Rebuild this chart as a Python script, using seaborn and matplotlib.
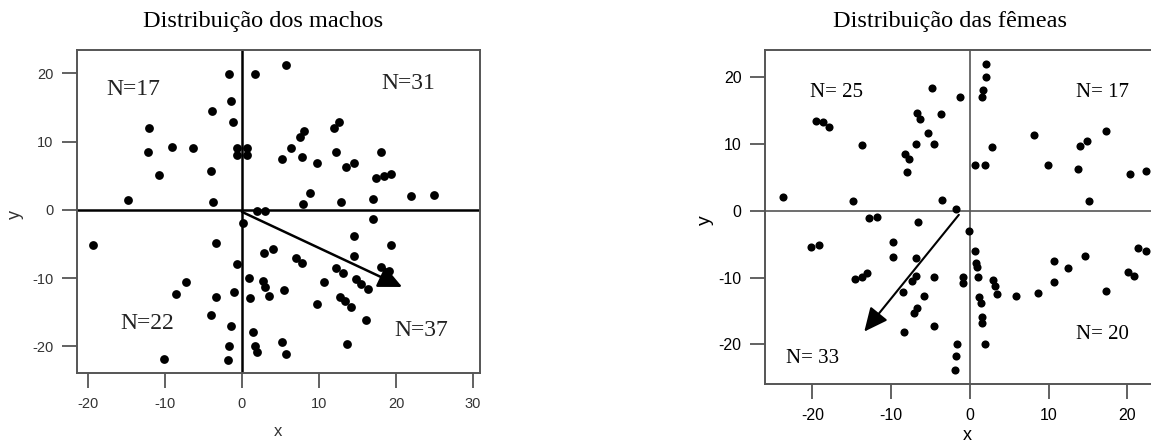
import numpy as np
import pandas as pd
import matplotlib
matplotlib.use("Agg")
import matplotlib.pyplot as plt
import seaborn as sns

# ---------------- data: males ----------------
male_x = [-14.8, -12.0, -12.2, -10.7, -9.1, -6.3, -3.9, -4.0, -3.8, -1.7, -1.4, -1.1, -0.7, -0.7,
          0.6, 0.6, 1.7, 5.75, 5.2, 6.4, 7.5, 8.0, 7.8, 9.8, 12.0, 12.6, 12.2, 13.5, 14.6, 18.0,
          17.4, 18.4, 19.3, 8.8, 7.9, 12.9, 17.0, 21.9, 24.9, 1.9, 3.0, 17.0,
          -19.3, -3.4, -0.65, -7.3, -8.5, -3.3, -1.0, -4.0, -1.4, -1.7, -1.8, -10.1,
          0.2, 0.9, 1.1, 2.9, 4.0, 2.8, 3.0, 3.5, 5.5, 7.05, 7.8, 10.6, 9.7, 12.2, 13.1,
          14.5, 14.5, 14.8, 15.5, 16.4, 12.7, 13.4, 14.1, 16.1, 18.0, 19.1, 19.3, 13.7,
          1.5, 1.7, 1.9, 5.2, 5.75]
male_y = [1.5, 12.0, 8.5, 5.1, 9.2, 9.0, 14.5, 5.7, 1.1, 19.9, 16.0, 12.9, 9.0, 8.0,
          9.0, 8.0, 19.9, 21.2, 7.4, 9.0, 10.7, 11.6, 7.8, 6.8, 12.0, 12.8, 8.5, 6.3, 6.8, 8.4,
          4.6, 5.0, 5.2, 2.4, 0.9, 1.2, 1.6, 2.0, 2.2, -0.2, -0.2, -1.4,
          -5.1, -4.8, -8.0, -10.6, -12.3, -12.7, -12.0, -15.4, -17.0, -19.9, -22.0, -21.8,
          -1.9, -10.0, -12.9, -6.3, -5.8, -10.5, -11.3, -12.6, -11.8, -7.1, -7.8, -10.6, -13.8,
          -8.5, -9.2, -3.9, -6.7, -10.2, -10.8, -11.6, -12.7, -13.3, -14.2, -16.2, -8.4, -8.9,
          -5.1, -19.6, -17.9, -19.9, -20.8, -19.3, -21.1]

# ---------------- data: females ----------------
female_x = [-23.7, -19.5, -18.6, -17.9, -13.7, -14.8, -12.8, -11.8, -8.2, -7.7, -8.0, -6.7,
            -6.8, -6.3, -5.3, -4.6, -4.8, -3.7, -1.3, -3.6, -1.8,
            2.0, 2.0, 1.7, 1.6, 2.75, 0.7, 1.9, 8.2, 9.9, 13.7, 14.0, 14.8, 17.3, 15.1, 20.3, 22.3,
            -20.1, -19.2, -14.6, -13.7, -13.0, -9.8, -9.7, -6.9, -8.5, -8.3, -7.4, -6.8, -7.1,
            -6.7, -6.6, -5.8, -4.5, -4.5, -0.85, -0.9, -1.6, -1.8, -1.9,
            -0.1, 0.6, 0.76, 0.93, 1.05, 1.2, 1.35, 1.5, 1.6, 1.9, 2.9, 3.2, 3.5, 5.9, 8.7,
            10.7, 10.7, 12.4, 14.6, 17.3, 20.1, 20.85, 21.3, 22.3]
female_y = [2.1, 13.5, 13.3, 12.5, 9.8, 1.4, -1.1, -0.9, 8.5, 7.75, 5.8, 14.6,
            10.0, 13.7, 11.7, 10.0, 18.4, 14.5, 17.0, 1.6, 0.25,
            22.0, 20.0, 18.1, 17.0, 9.6, 6.9, 6.8, 11.4, 6.9, 6.3, 9.75, 10.4, 12.0, 1.4, 5.5, 6.0,
            -5.45, -5.1, -10.2, -9.85, -9.25, -4.6, -6.95, -7.1, -12.2, -18.1, -10.45, -9.75, -15.3,
            -14.6, -1.75, -12.7, -9.85, -17.2, -9.95, -10.8, -20.0, -21.8, -23.9,
            -3.0, -5.95, -7.75, -8.35, -9.85, -12.85, -13.75, -15.85, -16.75, -20.0, -10.35, -11.25,
            -12.45, -12.75, -12.25, -7.45, -10.6, -8.6, -6.75, -12.0, -9.1, -9.75, -5.6, -5.95]

# mean vectors (data units)
male_arrow_start = (0.0, -0.3)
male_arrow_end = (20.8, -11.3)
female_arrow_start = (-1.4, -0.6)
female_arrow_end = (-13.4, -18.1)

# quadrant counts
male_labels = ["N=17", "N=31", "N=22", "N=37"]
male_label_pos = [(-14.1, 17.6), (21.6, 18.5), (-12.3, -16.7), (23.3, -17.7)]
female_labels = ["N= 25", "N= 17", "N= 33", "N= 20"]
female_label_pos = [(-16.9, 17.7), (16.8, 17.7), (-20.0, -22.2), (16.8, -18.6)]

ticks = [-20, -10, 0, 10, 20, 30]
male_title = "Distribuição dos machos"
female_title = "Distribuição das fêmeas"

sns.set_theme(style="ticks")
plt.rcParams['font.family'] = ['Liberation Sans', 'DejaVu Sans']
plt.rcParams['axes.unicode_minus'] = False

fig = plt.figure(figsize=(11.51, 4.46), dpi=100)
axL = fig.add_axes([77/1151, 1-373/446, (480-77)/1151, (373-50)/446])
axR = fig.add_axes([765/1151, 1-384.3/446, 394/1151, (384.3-50)/446])

dfm = pd.DataFrame({"x": male_x, "y": male_y})
dff = pd.DataFrame({"x": female_x, "y": female_y})

sns.scatterplot(data=dfm, x="x", y="y", ax=axL, color="black", s=40, edgecolor="black",
                linewidth=0, zorder=3)
sns.scatterplot(data=dff, x="x", y="y", ax=axR, color="black", s=34, edgecolor="black",
                linewidth=0, zorder=3)

serif = ['Liberation Serif', 'DejaVu Serif']

def style(ax, xlim, ylim, spine_col, zero_col, zero_lw, tick_col, labsize):
    ax.set_xlim(*xlim)
    ax.set_ylim(*ylim)
    ax.axhline(0, color=zero_col, lw=zero_lw, zorder=2)
    ax.axvline(0, color=zero_col, lw=zero_lw, zorder=2)
    for sp in ax.spines.values():
        sp.set_color(spine_col)
        sp.set_linewidth(1.4)
    ax.set_xticks([t for t in ticks if xlim[0] <= t <= xlim[1] + 0.5])
    ax.set_yticks([t for t in ticks if ylim[0] <= t <= ylim[1]])
    ax.tick_params(direction="out", length=11, width=1.3, color=spine_col,
                   labelsize=labsize, labelcolor=tick_col, pad=6)
    ax.set_xlabel("")
    ax.set_ylabel("")

style(axL, (-21.4, 30.9), (-23.9, 23.4), "#555555", "black", 1.8, "#333333", 10.5)
style(axR, (-26.0, 24.0), (-26.0, 24.1), "#555555", "#555555", 1.2, "black", 11.5)
axR.spines['right'].set_visible(False)

# axis labels
fig.text(15/1151, 1-215/446, "y", rotation=90, ha="center", va="center", fontsize=13, color="#333333")
fig.text(278/1151, 1-432/446, "x", ha="center", va="center", fontsize=12, color="#333333")
fig.text(705/1151, 1-220/446, "y", rotation=90, ha="center", va="center", fontsize=14, color="black")
fig.text(967/1151, 1-436/446, "x", ha="center", va="center", fontsize=13, color="black")

# titles
fig.text(263/1151, 1-22/446, male_title, ha="center", va="center", fontsize=17.5,
         family=serif, color="black")
fig.text(950/1151, 1-22/446, female_title, ha="center", va="center", fontsize=17.5,
         family=serif, color="black")

# quadrant labels
for lab, (tx, ty) in zip(male_labels, male_label_pos):
    axL.text(tx, ty, lab, ha="center", va="center", fontsize=17, family=serif, color="#222222")
for lab, (tx, ty) in zip(female_labels, female_label_pos):
    axR.text(tx, ty, lab, ha="center", va="center", fontsize=15, family=serif, color="black")

# mean vectors
axL.annotate("", xy=male_arrow_end, xytext=male_arrow_start,
             arrowprops=dict(arrowstyle="-|>,head_length=0.6,head_width=0.28", color="black",
                             lw=1.8, mutation_scale=24, shrinkA=0, shrinkB=0), zorder=4)
axR.annotate("", xy=female_arrow_end, xytext=female_arrow_start,
             arrowprops=dict(arrowstyle="-|>,head_length=0.6,head_width=0.28", color="black",
                             lw=1.5, mutation_scale=24, shrinkA=0, shrinkB=0), zorder=4)

fig.savefig("out.png", dpi=100)
